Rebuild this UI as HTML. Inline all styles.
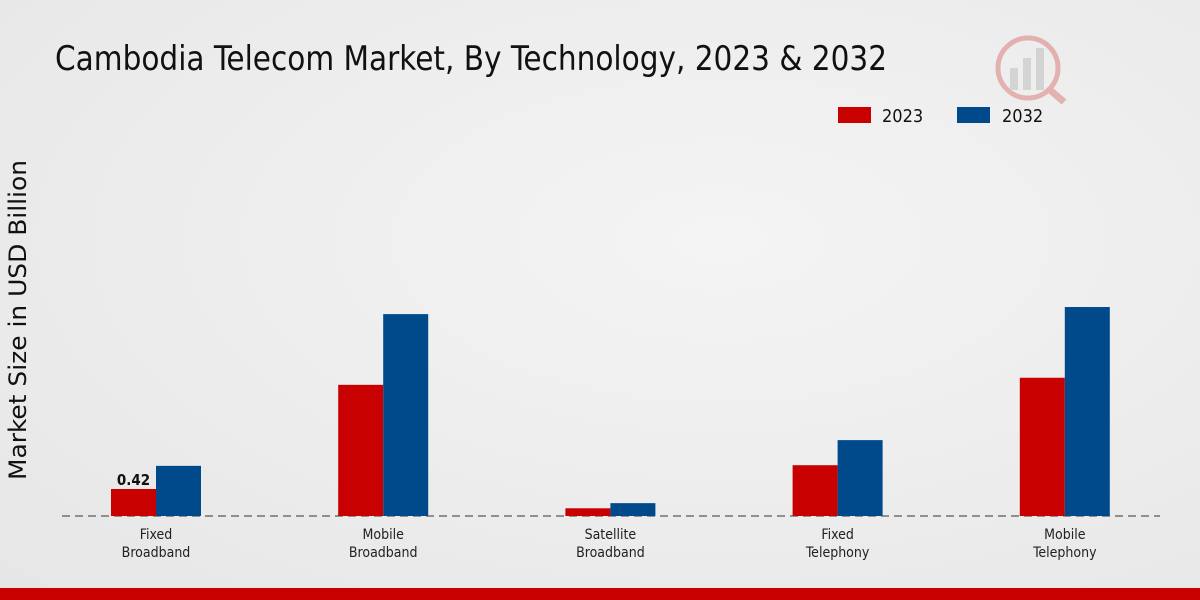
<!DOCTYPE html>
<html><head><meta charset="utf-8"><style>
body{margin:0;width:1200px;height:600px;overflow:hidden;font-family:"DejaVu Sans Condensed","Liberation Sans",sans-serif;}
#bg{position:absolute;left:0;top:0;width:1200px;height:600px;background:radial-gradient(ellipse at 60% 40%,#f4f4f4 0%,#e6e6e6 100%);}
</style></head><body>
<div id="bg"></div>
<svg id="chart" width="1200" height="600" style="position:absolute;left:0;top:0">
<text x="55" y="70" font-size="34" fill="#111" textLength="832" lengthAdjust="spacingAndGlyphs">Cambodia Telecom Market, By Technology, 2023 &amp; 2032</text>
<text transform="translate(26,320) rotate(-90)" text-anchor="middle" font-size="24" fill="#111" textLength="320" lengthAdjust="spacingAndGlyphs">Market Size in USD Billion</text>
<g>
<rect x="838" y="107" width="33" height="16" fill="#c80000"/>
<text x="882" y="122" font-size="18" fill="#111">2023</text>
<rect x="957" y="107" width="33" height="16" fill="#004a8c"/>
<text x="1002" y="122" font-size="18" fill="#111">2032</text>
</g>
<g opacity="0.25">
<circle cx="1028" cy="68" r="30" fill="none" stroke="#c80000" stroke-width="5"/>
<rect x="1010" y="68" width="8" height="22" fill="#888"/><rect x="1023" y="58" width="8" height="32" fill="#888"/><rect x="1036" y="48" width="8" height="42" fill="#888"/>
<line x1="1050" y1="90" x2="1064" y2="102" stroke="#c80000" stroke-width="7"/>
</g>
<line x1="62" y1="516" x2="1160" y2="516" stroke="#333" stroke-dasharray="8,5"/>
<g id="bars"></g>
<rect x="0" y="588" width="1200" height="12" fill="#c80000"/>
</svg>
<script>
const categories=[["Fixed","Broadband"],["Mobile","Broadband"],["Satellite","Broadband"],["Fixed","Telephony"],["Mobile","Telephony"]];
const values2023=[0.42,2.04,0.12,0.79,2.15];
const values2032=[0.78,3.14,0.2,1.18,3.25];
const labels2023=["0.42","","","",""];
const ns="http://www.w3.org/2000/svg";
const g=document.getElementById('bars');
const y=v=>516-v*64.3;
const xc=i=>156+i*227.2;
const bw=45;
function mk(t,a){const e=document.createElementNS(ns,t);for(const k in a)e.setAttribute(k,a[k]);g.appendChild(e);return e;}
categories.forEach((c,i)=>{
 const r1=mk('rect',{x:xc(i)-bw,y:y(values2023[i]),width:bw,height:516-y(values2023[i]),fill:'#c80000'});
 
 
 const r2=mk('rect',{x:xc(i),y:y(values2032[i]),width:bw,height:516-y(values2032[i]),fill:'#004a8c'});
 
 
 const t=mk('text',{x:xc(i),y:539,'text-anchor':'middle','font-size':14,fill:'#222'});
 
 
 c.forEach((s,j)=>{const ts=document.createElementNS(ns,'tspan');ts.setAttribute('x',xc(i));ts.setAttribute('dy',j?18:0);ts.textContent=s;t.appendChild(ts);});
 if(labels2023[i]){const l=mk('text',{x:xc(i)-bw/2,y:y(values2023[i])-4,'text-anchor':'middle','font-size':15,'font-weight':'bold',fill:'#111'});l.textContent=labels2023[i];
 
 }
});
</script>
</body></html>
